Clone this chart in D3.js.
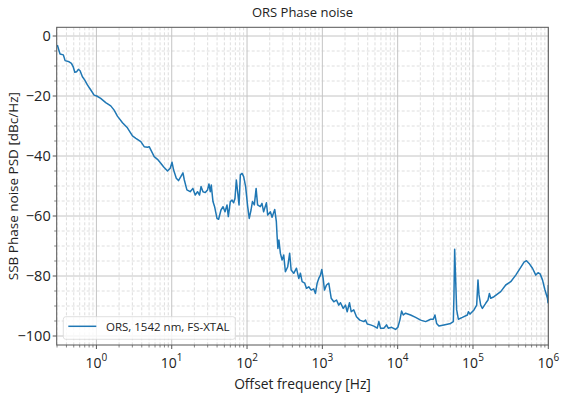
<!DOCTYPE html>
<html>
<head>
<meta charset="utf-8">
<script src="https://cdn.jsdelivr.net/npm/d3@7"></script>
<style>
  body { margin: 0; background: #fff; }
  svg { font-family: "Open Sans", "DejaVu Sans", sans-serif; }
</style>
</head>
<body>
<div id="chart"></div>
<script>
const width = 565, height = 396;
const margin = { top: 27.3, right: 16.7, bottom: 51, left: 56.7 };

const title = 'ORS Phase noise';
const xLabel = 'Offset frequency [Hz]';
const yLabel = 'SSB Phase noise PSD [dBc/Hz]';
const seriesName = 'ORS, 1542 nm, FS-XTAL';

const xDecades = [0, 1, 2, 3, 4, 5, 6];
const yTicks = [0, -20, -40, -60, -80, -100];

// offset frequency [Hz]
const freq = [
  0.303, 0.319, 0.329, 0.364, 0.384, 0.434, 0.466, 0.494, 0.516, 0.548,
  0.576, 0.607, 0.652, 0.701, 0.759, 0.843, 0.932, 1.01, 1.14, 1.33,
  1.55, 1.72, 1.90, 2.22, 2.58, 3.01, 3.34, 3.89, 4.31, 4.77,
  5.02, 5.85, 6.47, 7.03, 7.78, 8.79, 9.55, 10.1, 10.6, 11.5,
  12.3, 13.2, 14.1, 14.7, 15.9, 17.6, 19.1, 20.5, 22.0, 23.4,
  24.5, 26.0, 27.9, 29.9, 31.2, 32.5, 33.5, 35.3, 37.1, 39.9,
  41.9, 45.1, 48.0, 51.0, 54.2, 56.4, 60.0, 63.2, 66.4, 69.2,
  72.1, 75.0, 78.3, 81.5, 85.9, 90.2, 95.8, 102, 107, 113,
  118, 125, 132, 138, 150, 158, 166, 181, 188, 204,
  215, 233, 245, 251, 257, 265, 277, 292, 307, 323,
  347, 368, 385, 417, 453, 486, 512, 539, 583, 615,
  660, 710, 769, 810, 853, 896, 944, 982, 1025, 1067,
  1135, 1217, 1310, 1419, 1541, 1652, 1741, 1892, 2029, 2137,
  2292, 2415, 2616, 2839, 3142, 3553, 3744, 3945, 4362, 4826,
  5358, 5623, 5929, 6550, 7115, 7496, 8298, 9376, 10060, 10700,
  11270, 11870, 12740, 14850, 17300, 20170, 23500, 27400, 29730, 31250,
  32890, 35300, 41130, 50470, 54830, 55850, 57110, 58880, 60710, 63960,
  72290, 84300, 86900, 91300, 103100, 112000, 116500, 120200, 126500, 133300,
  147500, 158200, 165200, 171900, 190100, 233400, 272200, 317100, 369800, 430500,
  476400, 512900, 555700, 616600, 682300, 731300, 778000, 837500, 897500, 975000,
  990000, 1000000
];

// SSB phase noise [dBc/Hz]
const psd = [
  -3.0, -4.9, -6.0, -6.3, -8.2, -8.6, -9.1, -10.4, -12.1, -11.9,
  -11.1, -11.6, -13.6, -14.7, -16.3, -18.0, -19.7, -20.0, -20.8, -22.2,
  -23.3, -24.7, -26.7, -28.9, -30.6, -33.3, -34.1, -35.2, -36.9, -37.1,
  -36.9, -40.2, -41.1, -42.2, -43.6, -45.0, -44.1, -42.1, -44.7, -47.4,
  -48.2, -46.9, -45.6, -48.0, -51.3, -51.9, -50.8, -53.0, -51.9, -53.0,
  -50.2, -51.9, -52.2, -51.3, -49.3, -51.9, -49.7, -55.2, -56.9, -60.8,
  -61.1, -58.0, -56.9, -58.6, -56.3, -60.2, -55.2, -54.7, -55.6, -54.1,
  -48.0, -51.9, -56.3, -46.3, -45.8, -46.9, -50.2, -56.9, -60.8, -58.0,
  -55.2, -56.3, -50.8, -56.3, -56.9, -55.8, -58.6, -55.6, -59.7, -58.6,
  -60.4, -57.8, -61.9, -66.9, -70.8, -68.0, -72.4, -74.7, -73.0, -78.6,
  -76.9, -72.4, -78.0, -79.1, -77.4, -80.8, -79.1, -81.9, -82.4, -84.1,
  -83.6, -84.7, -84.3, -85.8, -82.4, -80.8, -79.7, -77.8, -80.8, -84.7,
  -83.0, -82.4, -87.4, -88.6, -88.0, -89.7, -88.9, -90.8, -89.7, -91.9,
  -88.9, -91.9, -91.3, -93.6, -94.7, -95.2, -94.7, -96.0, -96.3, -96.7,
  -97.4, -95.2, -97.4, -97.4, -96.3, -97.4, -97.1, -97.8, -97.1, -94.7,
  -91.7, -93.0, -92.4, -93.0, -93.8, -94.7, -95.2, -94.4, -94.4, -93.0,
  -95.8, -96.7, -96.3, -95.8, -95.2, -86.9, -71.1, -81.3, -91.3, -94.4,
  -93.8, -93.0, -91.9, -92.7, -91.3, -89.7, -81.3, -86.3, -89.7, -90.8,
  -89.1, -88.0, -85.8, -87.4, -86.9, -85.2, -83.0, -81.9, -79.7, -77.1,
  -75.4, -74.9, -75.8, -77.4, -79.7, -78.9, -79.3, -81.3, -84.4, -87.4,
  -88.9, -83.0
];

const data = freq.map((f, i) => ({ f, v: psd[i] }));

const svg = d3.select('#chart')
  .append('svg')
  .attr('width', width)
  .attr('height', height);

const x = d3.scaleLog()
  .domain([0.297, 1e6])
  .range([margin.left, width - margin.right]);

const y = d3.scaleLinear()
  .domain([-103, 2.9])
  .range([height - margin.bottom, margin.top]);

const plotW = width - margin.left - margin.right;
const plotH = height - margin.top - margin.bottom;

// minor x positions: 2..9 x 10^k
const xMinor = [];
for (let k = -1; k <= 5; k++) {
  for (let m = 2; m <= 9; m++) {
    const v = m * Math.pow(10, k);
    if (v >= 0.297 && v <= 1e6) xMinor.push(v);
  }
}
const yMinor = d3.range(-100, 1, 5).filter(v => v % 20 !== 0);

const grid = svg.append('g');

grid.selectAll('.xminor')
  .data(xMinor)
  .enter()
  .append('line')
  .attr('x1', d => x(d)).attr('x2', d => x(d))
  .attr('y1', margin.top).attr('y2', height - margin.bottom)
  .attr('stroke', '#d6d6d6')
  .attr('stroke-width', 0.8)
  .attr('stroke-dasharray', '3,2');

grid.selectAll('.yminor')
  .data(yMinor)
  .enter()
  .append('line')
  .attr('x1', margin.left).attr('x2', width - margin.right)
  .attr('y1', d => y(d)).attr('y2', d => y(d))
  .attr('stroke', '#d6d6d6')
  .attr('stroke-width', 0.8)
  .attr('stroke-dasharray', '3,2');

grid.selectAll('.xmajor')
  .data(xDecades)
  .enter()
  .append('line')
  .attr('x1', d => x(Math.pow(10, d))).attr('x2', d => x(Math.pow(10, d)))
  .attr('y1', margin.top).attr('y2', height - margin.bottom)
  .attr('stroke', '#c4c4c4')
  .attr('stroke-width', 1);

grid.selectAll('.ymajor')
  .data(yTicks)
  .enter()
  .append('line')
  .attr('x1', margin.left).attr('x2', width - margin.right)
  .attr('y1', d => y(d)).attr('y2', d => y(d))
  .attr('stroke', '#c4c4c4')
  .attr('stroke-width', 1);

// the curve
const line = d3.line()
  .x(d => x(d.f))
  .y(d => y(d.v));

svg.append('defs').append('clipPath')
  .attr('id', 'clip')
  .append('rect')
  .attr('x', margin.left).attr('y', margin.top)
  .attr('width', plotW).attr('height', plotH);

svg.append('path')
  .datum(data)
  .attr('d', line)
  .attr('fill', 'none')
  .attr('stroke', '#1f77b4')
  .attr('stroke-width', 1.5)
  .attr('stroke-linejoin', 'round')
  .attr('clip-path', 'url(#clip)');

// frame
svg.append('rect')
  .attr('x', margin.left).attr('y', margin.top)
  .attr('width', plotW).attr('height', plotH)
  .attr('fill', 'none')
  .attr('stroke', '#555')
  .attr('stroke-width', 1);

// x ticks
const xAxis = svg.append('g')
  .attr('transform', `translate(0,${height - margin.bottom})`);

xAxis.selectAll('.xt')
  .data(xDecades)
  .enter()
  .append('line')
  .attr('x1', d => x(Math.pow(10, d))).attr('x2', d => x(Math.pow(10, d)))
  .attr('y1', 0).attr('y2', 4)
  .attr('stroke', '#555');

xAxis.selectAll('.xmt')
  .data(xMinor)
  .enter()
  .append('line')
  .attr('x1', d => x(d)).attr('x2', d => x(d))
  .attr('y1', 0).attr('y2', 2.5)
  .attr('stroke', '#555')
  .attr('stroke-width', 0.7);

const xLab = xAxis.selectAll('.xl')
  .data(xDecades)
  .enter()
  .append('text')
  .attr('x', d => x(Math.pow(10, d)))
  .attr('y', 23)
  .attr('text-anchor', 'middle')
  .attr('font-size', '14px')
  .attr('fill', '#222');
xLab.append('tspan').text('10');
xLab.append('tspan')
  .attr('dy', -7)
  .attr('font-size', '10px')
  .text(d => d);

// y ticks
const yAxis = svg.append('g')
  .attr('transform', `translate(${margin.left},0)`);

yAxis.selectAll('.yt')
  .data(yTicks)
  .enter()
  .append('line')
  .attr('x1', -4).attr('x2', 0)
  .attr('y1', d => y(d)).attr('y2', d => y(d))
  .attr('stroke', '#555');

yAxis.selectAll('.ymt')
  .data(yMinor)
  .enter()
  .append('line')
  .attr('x1', -2.5).attr('x2', 0)
  .attr('y1', d => y(d)).attr('y2', d => y(d))
  .attr('stroke', '#555')
  .attr('stroke-width', 0.7);

yAxis.selectAll('.yl')
  .data(yTicks)
  .enter()
  .append('text')
  .attr('x', -6)
  .attr('y', d => y(d))
  .attr('dy', '0.35em')
  .attr('text-anchor', 'end')
  .attr('font-size', '14.5px')
  .attr('fill', '#222')
  .text(d => d3.format('')(d).replace('-', '\u2212'));

// labels
svg.append('text')
  .attr('x', margin.left + plotW / 2)
  .attr('y', 17)
  .attr('text-anchor', 'middle')
  .attr('font-size', '13px')
  .attr('fill', '#222')
  .text(title);

svg.append('text')
  .attr('x', margin.left + plotW / 2)
  .attr('y', 389)
  .attr('text-anchor', 'middle')
  .attr('font-size', '13.8px')
  .attr('fill', '#222')
  .text(xLabel);

svg.append('text')
  .attr('transform', `translate(18,${margin.top + plotH / 2}) rotate(-90)`)
  .attr('text-anchor', 'middle')
  .attr('font-size', '13.5px')
  .attr('fill', '#222')
  .text(yLabel);

// legend
const legend = svg.append('g')
  .attr('transform', 'translate(63.3,316.7)');

legend.append('rect')
  .attr('width', 172)
  .attr('height', 22.6)
  .attr('rx', 2.5)
  .attr('fill', 'rgba(255,255,255,0.8)')
  .attr('stroke', '#d8d8d8')
  .attr('stroke-width', 0.8);

legend.append('line')
  .attr('x1', 5).attr('x2', 33)
  .attr('y1', 9.6).attr('y2', 9.6)
  .attr('stroke', '#1f77b4')
  .attr('stroke-width', 1.5);

legend.append('text')
  .attr('x', 42.7)
  .attr('y', 14.3)
  .attr('font-size', '11.5px')
  .attr('fill', '#222')
  .text(seriesName);
</script>
</body>
</html>
